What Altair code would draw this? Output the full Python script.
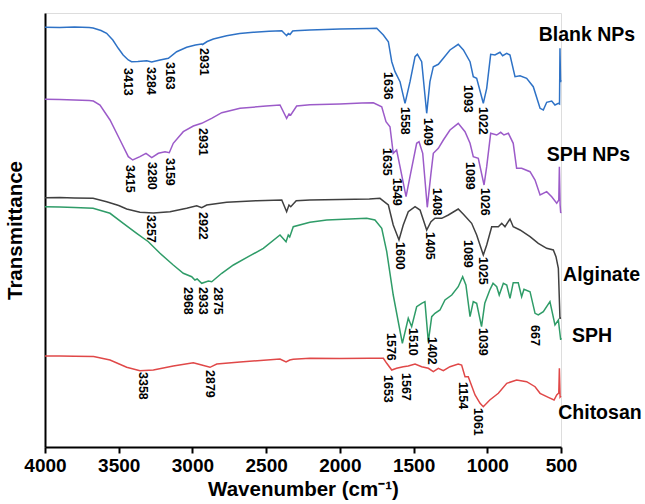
import altair as alt
import pandas as pd

# ---------------- data (wavenumber, offset transmittance, a.u.) ----------------
blank_w = [4000, 3900, 3800, 3700, 3674, 3620, 3582, 3540, 3503, 3470, 3435, 3413, 3370, 3310, 3276,
           3220, 3163, 3107, 3039, 2980, 2937, 2931, 2900, 2858, 2768, 2680, 2587, 2480, 2394, 2361,
           2350, 2338, 2320, 2304, 2203, 2100, 2000, 1900, 1800, 1750, 1705, 1671, 1648, 1626, 1592,
           1558, 1524, 1490, 1474, 1445, 1411, 1389, 1366, 1332, 1298, 1253, 1197, 1162, 1117, 1095,
           1072, 1027, 1004, 977, 948, 914, 896, 868, 846, 812, 778, 733, 688, 642, 620, 597, 563,
           541, 518, 510, 507, 503, 500]
blank_v = [419.7, 419.5, 420, 419.5, 419, 416.5, 413.7, 407, 398.7, 392, 387, 385.3, 385.5, 386.3, 385,
           387, 388.7, 395.3, 399.7, 402, 403, 402.5, 405.5, 408, 411.3, 413.5, 414.7, 415.7, 416.3, 411.3,
           413.5, 412.5, 416, 416.3, 417, 417.5, 418, 418.3, 418.5, 418.7, 412, 405.3, 385.3, 375.3, 365.3,
           343.7, 365.3, 390.3, 392.7, 385.3, 333.7, 365.3, 380.3, 382.7, 388.7, 397, 402.7, 397, 385.3, 370.3,
           368.7, 343.7, 358.7, 392.7, 392, 394.7, 391.3, 393.7, 392, 370.3, 371.3, 368.7, 360.3, 338.7, 337,
           344.7, 346, 342, 343.7, 343, 398.7, 365, 367]

sphnp_w = [4000, 3900, 3800, 3700, 3672, 3627, 3559, 3491, 3435, 3405, 3356, 3315, 3276, 3231, 3186,
           3157, 3130, 3062, 2994, 2937, 2870, 2801, 2677, 2500, 2406, 2361, 2345, 2333, 2293, 2203,
           2000, 1850, 1773, 1716, 1687, 1660, 1638, 1615, 1592, 1551, 1520, 1479, 1463, 1438, 1407,
           1382, 1366, 1332, 1298, 1253, 1197, 1151, 1117, 1095, 1061, 1022, 1004, 977, 936, 909,
           887, 857, 824, 801, 767, 710, 676, 642, 597, 563, 529, 515, 511, 506, 502, 500]
sphnp_v = [347.7, 347.5, 347, 346.5, 346, 342, 327, 307, 290.3, 287, 290.3, 293.7, 289.3, 293.7, 295.3,
           294.3, 303.7, 315.3, 321, 323.7, 328.7, 334.3, 338.7, 341, 342, 328.7, 333, 332, 341, 342.3,
           343, 344, 344.3, 340.3, 325.3, 320.3, 293.7, 297, 280.3, 250.3, 273.7, 303.7, 305.3, 293.7, 239.7,
           273.7, 293.7, 298.7, 307, 317, 323.7, 315.3, 303.7, 290.3, 288.7, 262, 280.3, 313.7, 312, 314.7,
           312, 313.7, 303.7, 278.7, 278.7, 275.3, 267, 252, 255.3, 250.3, 243.7, 247, 280.3, 242, 234, 235]

alg_w = [4000, 3900, 3800, 3674, 3582, 3500, 3446, 3356, 3265, 3152, 3039, 2971, 2937, 2903, 2768,
         2564, 2394, 2361, 2345, 2333, 2296, 2203, 2000, 1800, 1728, 1671, 1638, 1599, 1570, 1536,
         1490, 1456, 1411, 1382, 1355, 1309, 1264, 1197, 1162, 1106, 1072, 1027, 1004, 970, 925,
         902, 880, 846, 824, 778, 710, 654, 597, 552, 534, 518, 507, 500]
alg_v = [249.3, 249.5, 249, 248.7, 245.3, 241.5, 238, 234.7, 234, 235.3, 238.7, 241.3, 239.3, 242, 244.7,
         246.3, 247, 235.3, 242, 240.3, 246.3, 247, 247.5, 248, 248.7, 242, 222, 207, 222, 235.3,
         240.3, 237, 217, 225.3, 228.7, 228.7, 232, 238, 232.7, 223.7, 212, 192, 202, 220.3, 220.3,
         223.7, 220.3, 228, 220.3, 217, 210.3, 203.7, 198.7, 197, 190.3, 178.7, 128.7, 129]

sph_w = [4000, 3900, 3800, 3674, 3559, 3469, 3378, 3299, 3220, 3130, 3062, 3005, 2983, 2968, 2937,
         2892, 2869, 2801, 2722, 2621, 2519, 2406, 2365, 2350, 2340, 2316, 2203, 2089, 1818, 1762,
         1716, 1682, 1638, 1576, 1536, 1513, 1479, 1445, 1423, 1400, 1377, 1355, 1321, 1287, 1241,
         1197, 1167, 1145, 1117, 1095, 1072, 1039, 1017, 983, 961, 936, 919, 891, 868, 846,
         824, 790, 767, 751, 710, 676, 654, 620, 575, 541, 518, 502, 500]
sph_v = [240.3, 240, 239.5, 238.7, 233.7, 223.7, 213.7, 205.3, 193.7, 182, 173.7, 170.3, 167, 168, 163.7,
         166, 165.3, 173.7, 182, 190.3, 198.7, 212, 205.3, 212, 210, 220.3, 224.7, 227, 228.7, 227,
         218.7, 195.3, 152, 103.7, 128.7, 120.3, 140.3, 143.7, 145.3, 105.3, 130.3, 133.7, 137, 147, 152,
         160.3, 170.3, 162, 130.3, 145.3, 143.7, 120.3, 143.7, 157, 163.7, 160.3, 152, 163.7, 162, 148.7,
         164.3, 164.3, 150.3, 157.7, 155.3, 133.7, 132, 135.3, 145.3, 122, 127, 107, 109]

chi_w = [4000, 3900, 3800, 3670, 3559, 3446, 3356, 3265, 3130, 2994, 2937, 2881, 2835, 2677, 2406,
         2365, 2340, 2316, 2203, 2000, 1800, 1705, 1682, 1648, 1615, 1570, 1536, 1490, 1445, 1400,
         1366, 1332, 1298, 1253, 1197, 1174, 1151, 1129, 1083, 1049, 1027, 983, 925, 868, 801,
         733, 676, 642, 586, 547, 529, 515, 511, 506, 500]
chi_v = [91, 91, 90.8, 90.5, 87, 79.7, 76.3, 77, 81, 84.3, 82, 79.7, 83, 85, 88,
         85, 87, 87.7, 88.7, 88.5, 88.7, 88.7, 83.7, 77, 78.7, 80.3, 81, 83, 80.3, 78.7,
         75.3, 78.7, 76.3, 80.3, 83, 82, 70.3, 70.3, 52, 43.7, 40.3, 47, 53.7, 63.7, 67,
         65.3, 60.3, 53.7, 49.7, 47, 52, 54, 78.7, 50, 51]

series_names = ["Blank NPs", "SPH NPs", "Alginate", "SPH", "Chitosan"]
series_colors = ["#2E72C6", "#9C5BC9", "#404040", "#2F9C68", "#E04848"]

# peak annotations: text, anchor wavenumber, anchor (top) value
peak_text = ["3413", "3284", "3163", "2931", "1636", "1558", "1409", "1093", "1022",
             "3415", "3280", "3159", "2931", "1635", "1549", "1408", "1089", "1026",
             "3257", "2922", "1600", "1405", "1089", "1025",
             "2968", "2933", "2875", "1576", "1510", "1402", "1039", "667",
             "3358", "2879", "1653", "1567", "1154", "1061"]
peak_x = [3435, 3281, 3152, 2922, 1672, 1558, 1404, 1129, 1027,
          3423, 3272, 3152, 2926, 1678, 1614, 1343, 1117, 1016,
          3281, 2926, 1592, 1388, 1129, 1027,
          3028, 2926, 2825, 1655, 1502, 1377, 1031, 676,
          3333, 2881, 1672, 1551, 1163, 1061]
peak_y = [379, 380, 385, 399, 375, 340, 329, 362, 340,
          282, 285, 289, 319, 299, 269, 259, 285, 259,
          232, 235, 205, 215, 207, 190,
          160, 160, 160, 114, 119, 110, 119, 122,
          75, 77, 72, 74, 65, 39]

# series name labels (right side)
name_x = [324, 314, 225, 290, 236]
name_y = [412, 292, 172, 111, 34]

# ---------------- build tables ----------------
rows = []
for name, ws, vs in zip(series_names,
                        [blank_w, sphnp_w, alg_w, sph_w, chi_w],
                        [blank_v, sphnp_v, alg_v, sph_v, chi_v]):
    for w, v in zip(ws, vs):
        rows.append({"sample": name, "wn": w, "t": v})
spec = pd.DataFrame(rows)
peaks = pd.DataFrame({"label": peak_text, "wn": peak_x, "t": peak_y})
names = pd.DataFrame({"label": series_names, "wn": name_x, "t": name_y})

FONT = "Liberation Sans"
xscale = alt.Scale(domain=[500, 4000], reverse=True, nice=False, zero=False)
yscale = alt.Scale(domain=[0, 434], nice=False, zero=False)

lines = alt.Chart(spec).mark_line(strokeWidth=1.5, clip=False).encode(
    x=alt.X("wn:Q", scale=xscale,
            axis=alt.Axis(title="Wavenumber (cm⁻¹)", values=[4000, 3500, 3000, 2500, 2000, 1500, 1000, 500],
                          format="d", grid=False, labelFontSize=19, labelFontWeight="bold", labelFont=FONT,
                          labelColor="black", labelPadding=3, labelFlush=False,
                          tickSize=6, tickWidth=2, tickColor="black",
                          domainWidth=2, domainColor="black",
                          titleFont=FONT, titleFontSize=20.5, titleFontWeight="bold", titleColor="black",
                          titlePadding=4)),
    y=alt.Y("t:Q", scale=yscale,
            axis=alt.Axis(title="Transmittance", labels=False, ticks=False, grid=False,
                          domainWidth=2, domainColor="black",
                          titleFont=FONT, titleFontSize=20.5, titleFontWeight="bold", titleColor="black",
                          titlePadding=20)),
    color=alt.Color("sample:N", scale=alt.Scale(domain=series_names, range=series_colors), legend=None),
    detail="sample:N",
)

peak_labels = alt.Chart(peaks).mark_text(
    angle=90, align="left", baseline="middle", font=FONT, fontSize=12.5, fontWeight="bold", color="black"
).encode(x=alt.X("wn:Q", scale=xscale), y=alt.Y("t:Q", scale=yscale), text="label:N")

name_labels = alt.Chart(names).mark_text(
    align="center", baseline="middle", font=FONT, fontSize=19.5, fontWeight="bold", color="black"
).encode(x=alt.X("wn:Q", scale=xscale), y=alt.Y("t:Q", scale=yscale), text="label:N")

chart = alt.layer(lines, peak_labels, name_labels).properties(
    width=516, height=434,
    autosize=alt.AutoSizeParams(type="none"),
    padding={"left": 45, "top": 13, "right": 84, "bottom": 57},
).configure_view(stroke=None).configure(background="white")

chart.save("out.html", embed_options={"renderer": "svg", "actions": False})
